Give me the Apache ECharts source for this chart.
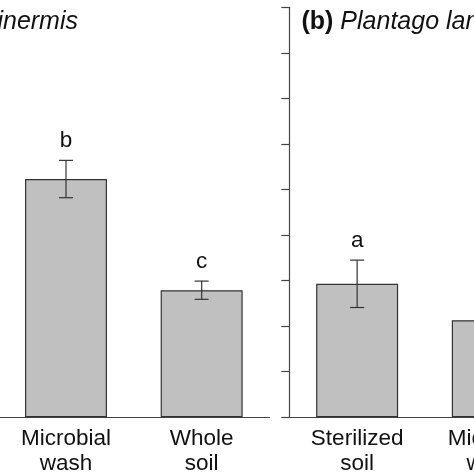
<!DOCTYPE html>
<html>
<head>
<meta charset="utf-8">
<script src="https://cdn.jsdelivr.net/npm/echarts@6/dist/echarts.min.js"></script>
<style>html,body{margin:0;padding:0;background:#fff}#c{width:474px;height:474px}</style>
</head>
<body>
<div id="c"></div>
<script>
const categories = ["Sterilized\nsoil", "Microbial\nwash", "Whole\nsoil"];
// Panel (a) Bromus inermis
const aMeans = [7.4, 5.23, 2.79];
const aErrors = [0.5, 0.41, 0.2];
const aLetters = ["a", "b", "c"];
// Panel (b) Plantago lanceolata
const bMeans = [2.93, 2.13, 1.8];
const bErrors = [0.52, 0.3, 0.25];
const bLetters = ["a", "b", "b"];
const yTicks = { min: 0, max: 9, interval: 1 };

const axisColor = '#444';
const textColor = '#111';
const font = 'Liberation Sans, Arial, sans-serif';
const fs = 22.5;
const titleFs = 25;

function errSeries(idx, means, errs, letters) {
  return {
    type: 'custom', xAxisIndex: idx, yAxisIndex: idx, z: 5,
    data: means.map((m, i) => [i, m, errs[i]]),
    renderItem: function (params, api) {
      const i = api.value(0), m = api.value(1), e = api.value(2);
      const top = api.coord([i, m + e]);
      const bot = api.coord([i, m - e]);
      const hw = 7;
      const st = { stroke: '#333', lineWidth: 1.2 };
      return {
        type: 'group',
        children: [
          { type: 'line', shape: { x1: top[0], y1: top[1], x2: bot[0], y2: bot[1] }, style: st },
          { type: 'line', shape: { x1: top[0] - hw, y1: top[1], x2: top[0] + hw, y2: top[1] }, style: st },
          { type: 'line', shape: { x1: bot[0] - hw, y1: bot[1], x2: bot[0] + hw, y2: bot[1] }, style: st },
          { type: 'text', x: top[0], y: top[1] - 8, style: { text: letters[params.dataIndex], fill: textColor, font: fs + 'px ' + font, align: 'center', verticalAlign: 'bottom' } }
        ]
      };
    }
  };
}

function xAx(idx) {
  return {
    type: 'category', gridIndex: idx, data: categories,
    axisLine: { show: true, lineStyle: { color: axisColor, width: 1.2 } },
    axisTick: { show: false },
    axisLabel: { color: textColor, fontSize: fs, fontFamily: font, lineHeight: 25, margin: 9, interval: 0 }
  };
}
function yAx(idx) {
  return {
    type: 'value', gridIndex: idx, min: yTicks.min, max: yTicks.max, interval: yTicks.interval,
    axisLine: { show: true, lineStyle: { color: axisColor, width: 1.2 } },
    axisTick: { show: true, length: 8, lineStyle: { color: axisColor, width: 1.2 } },
    axisLabel: { show: false },
    splitLine: { show: false }
  };
}

const richStyles = {
  b: { fontWeight: 'bold', fontStyle: 'normal', fontSize: titleFs, fontFamily: font, color: textColor },
  i: { fontWeight: 'normal', fontStyle: 'italic', fontSize: titleFs, fontFamily: font, color: textColor }
};

const chart = echarts.init(document.getElementById('c'), null, { renderer: 'canvas' });
chart.setOption({
  animation: false,
  backgroundColor: '#fff',
  title: [
    { text: '{b|(a)} {i|Bromus inermis}', right: 396, top: 10, padding: 0, textStyle: { fontWeight: 'normal', fontSize: titleFs, rich: richStyles } },
    { text: '{b|(b)} {i|Plantago lanceolata}', left: 301.5, top: 10, padding: 0, textStyle: { fontWeight: 'normal', fontSize: titleFs, rich: richStyles } }
  ],
  grid: [
    { left: -137.5, width: 407, top: 7.3, bottom: 56.7, outerBoundsMode: 'none', containLabel: false },
    { left: 289.3, width: 407, top: 7.3, bottom: 56.7, outerBoundsMode: 'none', containLabel: false }
  ],
  xAxis: [xAx(0), xAx(1)],
  yAxis: [yAx(0), yAx(1)],
  series: [
    { type: 'bar', xAxisIndex: 0, yAxisIndex: 0, data: aMeans, barWidth: 82, itemStyle: { color: '#c0c0c0', borderColor: '#333', borderWidth: 1.2 } },
    { type: 'bar', xAxisIndex: 1, yAxisIndex: 1, data: bMeans, barWidth: 82, itemStyle: { color: '#c0c0c0', borderColor: '#333', borderWidth: 1.2 } },
    errSeries(0, aMeans, aErrors, aLetters),
    errSeries(1, bMeans, bErrors, bLetters)
  ]
});
</script>
</body>
</html>
